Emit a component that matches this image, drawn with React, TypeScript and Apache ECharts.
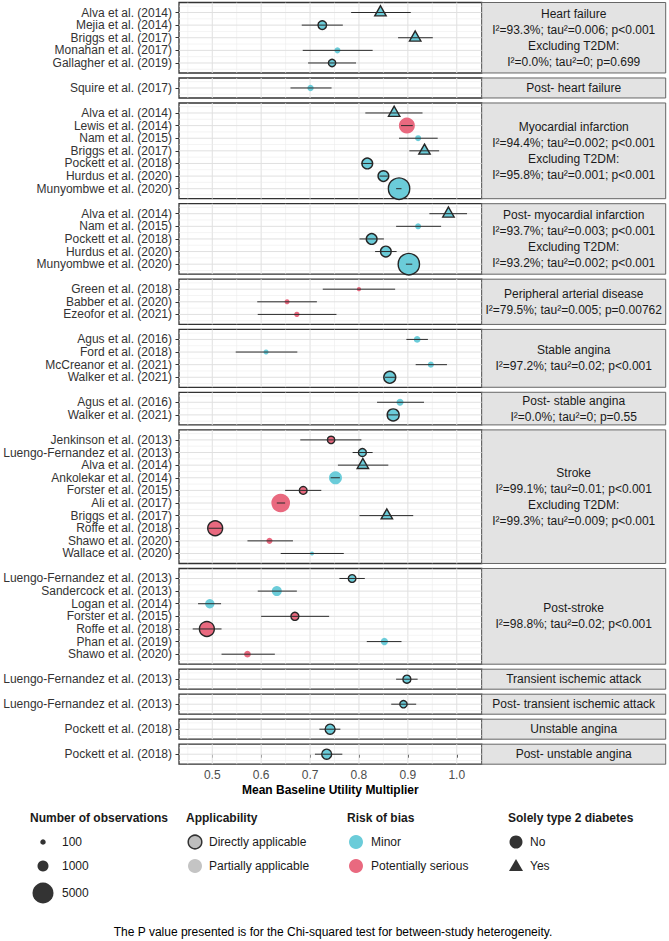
import React, { useEffect, useRef } from "react";
import * as echarts from "echarts";

const FONT = '"Liberation Sans", Arial, Helvetica, sans-serif';

const groupNames = [
  "Heart failure",
  "Post- heart failure",
  "Myocardial infarction",
  "Post- myocardial infarction",
  "Peripheral arterial disease",
  "Stable angina",
  "Post- stable angina",
  "Stroke",
  "Post-stroke",
  "Transient ischemic attack",
  "Post- transient ischemic attack",
  "Unstable angina",
  "Post- unstable angina",
];

const groupStats = [
  "I²=93.3%; tau²=0.006; p<0.001\nExcluding T2DM:\nI²=0.0%; tau²=0; p=0.699",
  "",
  "I²=94.4%; tau²=0.002; p<0.001\nExcluding T2DM:\nI²=95.8%; tau²=0.001; p<0.001",
  "I²=93.7%; tau²=0.003; p<0.001\nExcluding T2DM:\nI²=93.2%; tau²=0.002; p<0.001",
  "I²=79.5%; tau²=0.005; p=0.00762",
  "I²=97.2%; tau²=0.02; p<0.001",
  "I²=0.0%; tau²=0; p=0.55",
  "I²=99.1%; tau²=0.01; p<0.001\nExcluding T2DM:\nI²=99.3%; tau²=0.009; p<0.001",
  "I²=98.8%; tau²=0.02; p<0.001",
  "",
  "",
  "",
  "",
];

const studyGroup = [
  0, 0, 0, 0, 0,
  1,
  2, 2, 2, 2, 2, 2, 2,
  3, 3, 3, 3, 3,
  4, 4, 4,
  5, 5, 5, 5,
  6, 6,
  7, 7, 7, 7, 7, 7, 7, 7, 7, 7,
  8, 8, 8, 8, 8, 8, 8,
  9,
  10,
  11,
  12,
];

const studyLabels = [
  "Alva et al. (2014)", "Mejia et al. (2014)", "Briggs et al. (2017)", "Monahan et al. (2017)", "Gallagher et al. (2019)",
  "Squire et al. (2017)",
  "Alva et al. (2014)", "Lewis et al. (2014)", "Nam et al. (2015)", "Briggs et al. (2017)", "Pockett et al. (2018)", "Hurdus et al. (2020)", "Munyombwe et al. (2020)",
  "Alva et al. (2014)", "Nam et al. (2015)", "Pockett et al. (2018)", "Hurdus et al. (2020)", "Munyombwe et al. (2020)",
  "Green et al. (2018)", "Babber et al. (2020)", "Ezeofor et al. (2021)",
  "Agus et al. (2016)", "Ford et al. (2018)", "McCreanor et al. (2021)", "Walker et al. (2021)",
  "Agus et al. (2016)", "Walker et al. (2021)",
  "Jenkinson et al. (2013)", "Luengo-Fernandez et al. (2013)", "Alva et al. (2014)", "Ankolekar et al. (2014)", "Forster et al. (2015)", "Ali et al. (2017)", "Briggs et al. (2017)", "Roffe et al. (2018)", "Shawo et al. (2020)", "Wallace et al. (2020)",
  "Luengo-Fernandez et al. (2013)", "Sandercock et al. (2013)", "Logan et al. (2014)", "Forster et al. (2015)", "Roffe et al. (2018)", "Phan et al. (2019)", "Shawo et al. (2020)",
  "Luengo-Fernandez et al. (2013)",
  "Luengo-Fernandez et al. (2013)",
  "Pockett et al. (2018)",
  "Pockett et al. (2018)",
];

const meanUtility = [
  0.844, 0.725, 0.915, 0.756, 0.745,
  0.701,
  0.872, 0.898, 0.921, 0.934, 0.817, 0.850, 0.882,
  0.983, 0.921, 0.826, 0.855, 0.902,
  0.800, 0.653, 0.673,
  0.919, 0.610, 0.947, 0.863,
  0.884, 0.870,
  0.743, 0.807, 0.808, 0.752, 0.686, 0.640, 0.857, 0.506, 0.617, 0.704,
  0.786, 0.632, 0.495, 0.669, 0.489, 0.852, 0.572,
  0.898,
  0.891,
  0.741,
  0.734,
];

const lowerCI = [
  0.784, 0.683, 0.880, 0.685, 0.696,
  0.660,
  0.813, 0.886, 0.882, 0.903, 0.805, 0.842, 0.876,
  0.944, 0.876, 0.801, 0.833, 0.896,
  0.726, 0.592, 0.593,
  0.897, 0.548, 0.916, 0.853,
  0.837, 0.859,
  0.680, 0.787, 0.757, 0.742, 0.649, 0.632, 0.801, 0.492, 0.572, 0.640,
  0.760, 0.593, 0.471, 0.600, 0.460, 0.816, 0.519,
  0.876,
  0.866,
  0.719,
  0.710,
];

const upperCI = [
  0.906, 0.767, 0.951, 0.828, 0.794,
  0.744,
  0.930, 0.910, 0.961, 0.964, 0.829, 0.859, 0.887,
  1.021, 0.968, 0.851, 0.877, 0.909,
  0.874, 0.714, 0.754,
  0.941, 0.674, 0.980, 0.874,
  0.933, 0.881,
  0.805, 0.828, 0.860, 0.761, 0.723, 0.649, 0.911, 0.520, 0.665, 0.769,
  0.812, 0.673, 0.518, 0.739, 0.519, 0.887, 0.628,
  0.920,
  0.917,
  0.762,
  0.766,
];

const observations = [
  500, 500, 500, 150, 300,
  180,
  500, 2600, 150, 500, 930, 930, 5200,
  500, 150, 930, 930, 5200,
  30, 70, 90,
  220, 70, 150, 1260,
  260, 1260,
  300, 400, 500, 1550, 370, 3800, 500, 2200, 150, 20,
  350, 770, 630, 400, 2200, 300, 220,
  400,
  300,
  770,
  770,
];

const DA = "Directly applicable";
const PA = "Partially applicable";
const applicability = [
  DA, DA, DA, PA, DA,
  PA,
  DA, PA, PA, DA, DA, DA, DA,
  DA, PA, DA, DA, DA,
  PA, PA, PA,
  PA, PA, PA, DA,
  PA, DA,
  DA, DA, DA, PA, DA, PA, DA, DA, PA, PA,
  DA, PA, PA, DA, DA, PA, PA,
  DA,
  DA,
  DA,
  DA,
];

const MI = "Minor";
const PS = "Potentially serious";
const riskOfBias = [
  MI, MI, MI, MI, MI,
  MI,
  MI, PS, MI, MI, MI, MI, MI,
  MI, MI, MI, MI, MI,
  PS, PS, PS,
  MI, MI, MI, MI,
  MI, MI,
  PS, MI, MI, MI, PS, PS, MI, PS, PS, MI,
  MI, MI, MI, PS, PS, MI, PS,
  MI,
  MI,
  MI,
  MI,
];

const solelyT2D = [
  "Yes", "No", "Yes", "No", "No",
  "No",
  "Yes", "No", "No", "Yes", "No", "No", "No",
  "Yes", "No", "No", "No", "No",
  "No", "No", "No",
  "No", "No", "No", "No",
  "No", "No",
  "No", "No", "Yes", "No", "No", "No", "Yes", "No", "No", "No",
  "No", "No", "No", "No", "No", "No", "No",
  "No",
  "No",
  "No",
  "No",
];

const xTicks = [0.5, 0.6, 0.7, 0.8, 0.9, 1.0];
const xMinorGrid = [0.45, 0.55, 0.65, 0.75, 0.85, 0.95];
const sizeLegendValues = [100, 1000, 5000];
const sizeLegendLabels = ["100", "1000", "5000"];

const riskColors: Record<string, string> = { Minor: "#6BCCD9", "Potentially serious": "#E9697F" };

// layout
const TOP = 2.5;
const STEP = 12.62;
const PAD = 10;
const GAP = 5;
const LEFT = 179;
const PANEL_W = 302.7;
const STRIP_W = 184;
const XMIN = 0.432;
const XMAX = 1.051;

function diameter(n: number) {
  return 2.9 + 0.256 * Math.sqrt(n);
}

function buildOption() {
  const grid: any[] = [];
  const xAxis: any[] = [];
  const yAxis: any[] = [];
  const series: any[] = [];
  const graphic: any[] = [];

  let y = TOP;
  groupNames.forEach((gName, gi) => {
    const idx: number[] = [];
    studyGroup.forEach((g, i) => {
      if (g === gi) idx.push(i);
    });
    const n = idx.length;
    const h = (n - 1) * STEP + 2 * PAD;
    const last = gi === groupNames.length - 1;
    const labels = idx.map((i) => studyLabels[i]);
    const rows = idx.map((_, k) => k);
    const yMin = -PAD / STEP;
    const yMax = n - 1 + PAD / STEP;

    grid.push({
      left: LEFT,
      top: y,
      width: PANEL_W,
      height: h,
      show: true,
      backgroundColor: "#FFFFFF",
      borderColor: "#333333",
      borderWidth: 1.3,
    });

    xAxis.push({
      type: "value",
      gridIndex: gi,
      min: XMIN,
      max: XMAX,
      minInterval: 0.1,
      maxInterval: 0.1,
      splitLine: { show: false },
      axisLine: { show: false },
      axisTick: {
        show: last,
        customValues: xTicks,
        length: 3.5,
        lineStyle: { color: "#333333", width: 1 },
      },
      axisLabel: {
        show: last,
        customValues: xTicks,
        margin: 5,
        color: "#4D4D4D",
        fontSize: 12,
        fontFamily: FONT,
        formatter: (v: number) => {
          const ok = xTicks.some((t) => Math.abs(t - v) < 1e-6);
          return ok ? v.toFixed(1) : "";
        },
      },
      name: last ? "Mean Baseline Utility Multiplier" : "",
      nameLocation: "middle",
      nameGap: 20,
      nameTextStyle: {
        fontWeight: "bold",
        fontSize: 12,
        color: "#000000",
        fontFamily: FONT,
      },
    });

    yAxis.push({
      type: "value",
      gridIndex: gi,
      min: yMin,
      max: yMax,
      inverse: true,
      minInterval: 1,
      maxInterval: 1,
      splitLine: { show: false },
      axisLine: { show: false },
      axisTick: {
        show: true,
        customValues: rows,
        length: 3.5,
        lineStyle: { color: "#333333", width: 1 },
      },
      axisLabel: {
        customValues: rows,
        margin: 7,
        color: "#333333",
        fontSize: 12,
        fontFamily: FONT,
        formatter: (v: number) => {
          const r = Math.round(v);
          return Math.abs(v - r) < 1e-6 && r >= 0 && r < n ? labels[r] : "";
        },
      },
    });

    // grid lines (through the axes' scales)
    const gridData: number[][] = [];
    xTicks.forEach((v) => gridData.push([0, v]));
    xMinorGrid.forEach((v) => gridData.push([1, v]));
    for (let r = 0; r < n; r++) gridData.push([2, r]);
    for (let r = -1; r < n; r++) gridData.push([3, r + 0.5]);
    series.push({
      type: "custom",
      xAxisIndex: gi,
      yAxisIndex: gi,
      z: 1,
      silent: true,
      data: gridData,
      renderItem: (params: any, api: any) => {
        const kind = api.value(0);
        const v = api.value(1);
        let p1: number[];
        let p2: number[];
        if (kind < 2) {
          p1 = api.coord([v, yMin]);
          p2 = api.coord([v, yMax]);
        } else {
          p1 = api.coord([XMIN, v]);
          p2 = api.coord([XMAX, v]);
        }
        const major = kind === 0 || kind === 2;
        return {
          type: "line",
          shape: { x1: p1[0], y1: p1[1], x2: p2[0], y2: p2[1] },
          style: {
            stroke: major ? "#E0E0E0" : "#EDEDED",
            lineWidth: major ? 1 : 0.6,
          },
        };
      },
    });

    // points
    series.push({
      type: "scatter",
      xAxisIndex: gi,
      yAxisIndex: gi,
      z: 2,
      silent: true,
      data: idx.map((i, k) => {
        const d = diameter(observations[i]);
        const tri = solelyT2D[i] === "Yes";
        const direct = applicability[i] === DA;
        const w = tri ? d * 1.32 : d;
        const hh = tri ? w * 0.88 : d;
        return {
          value: [meanUtility[i], k],
          symbol: tri ? "triangle" : "circle",
          symbolSize: [w, hh],
          symbolOffset: tri ? [0, -hh / 6] : [0, 0],
          itemStyle: {
            color: riskColors[riskOfBias[i]],
            borderColor: "#262626",
            borderWidth: direct ? 1.4 : 0,
            opacity: 1,
          },
        };
      }),
    });

    // confidence intervals
    series.push({
      type: "custom",
      xAxisIndex: gi,
      yAxisIndex: gi,
      z: 3,
      silent: true,
      encode: { x: [0, 1], y: 2 },
      data: idx.map((i, k) => [lowerCI[i], upperCI[i], k]),
      renderItem: (params: any, api: any) => {
        const p1 = api.coord([api.value(0), api.value(2)]);
        const p2 = api.coord([api.value(1), api.value(2)]);
        return {
          type: "line",
          shape: { x1: p1[0], y1: p1[1], x2: p2[0], y2: p2[1] },
          style: { stroke: "#2B2B2B", lineWidth: 1 },
        };
      },
    });

    // strip
    const stats = groupStats[gi];
    const text = stats ? gName + "\n" + stats : gName;
    graphic.push({
      type: "rect",
      silent: true,
      shape: { x: LEFT + PANEL_W, y: y, width: STRIP_W, height: h },
      style: { fill: "#E3E3E3", stroke: "#666666", lineWidth: 1 },
    });
    graphic.push({
      type: "text",
      silent: true,
      x: LEFT + PANEL_W + STRIP_W / 2,
      y: y + h / 2,
      style: {
        text,
        align: "center",
        verticalAlign: "middle",
        textAlign: "center",
        textVerticalAlign: "middle",
        fontSize: 12,
        lineHeight: 15.9,
        fontFamily: FONT,
        fill: "#1A1A1A",
      },
    });

    y += h + GAP;
  });

  // ---------- legends ----------
  const titleY = 818;
  const rowY = [842, 866, 893];
  const titleStyle = (t: string, x: number) => ({
    type: "text",
    silent: true,
    x,
    y: titleY,
    style: {
      text: t,
      fontSize: 12,
      fontWeight: "bold",
      fontFamily: FONT,
      fill: "#1A1A1A",
      align: "left",
      verticalAlign: "middle",
      textAlign: "left",
      textVerticalAlign: "middle",
    },
  });
  const labelStyle = (t: string, x: number, yy: number) => ({
    type: "text",
    silent: true,
    x,
    y: yy,
    style: {
      text: t,
      fontSize: 12,
      fontFamily: FONT,
      fill: "#1A1A1A",
      align: "left",
      verticalAlign: "middle",
      textAlign: "left",
      textVerticalAlign: "middle",
    },
  });

  graphic.push(titleStyle("Number of observations", 30));
  sizeLegendValues.forEach((v, k) => {
    graphic.push({
      type: "circle",
      silent: true,
      shape: { cx: 43, cy: rowY[k], r: diameter(v) / 2 },
      style: { fill: "#333333" },
    });
    graphic.push(labelStyle(sizeLegendLabels[k], 62, rowY[k]));
  });

  graphic.push(titleStyle("Applicability", 186));
  graphic.push({
    type: "circle",
    silent: true,
    shape: { cx: 195, cy: rowY[0], r: 6.8 },
    style: { fill: "#BEBEBE", stroke: "#333333", lineWidth: 1.5 },
  });
  graphic.push(labelStyle(DA, 209, rowY[0]));
  graphic.push({
    type: "circle",
    silent: true,
    shape: { cx: 195, cy: rowY[1], r: 7 },
    style: { fill: "#C4C4C4" },
  });
  graphic.push(labelStyle(PA, 209, rowY[1]));

  graphic.push(titleStyle("Risk of bias", 347));
  graphic.push({
    type: "circle",
    silent: true,
    shape: { cx: 356, cy: rowY[0], r: 7 },
    style: { fill: riskColors[MI] },
  });
  graphic.push(labelStyle(MI, 371, rowY[0]));
  graphic.push({
    type: "circle",
    silent: true,
    shape: { cx: 356, cy: rowY[1], r: 7 },
    style: { fill: riskColors[PS] },
  });
  graphic.push(labelStyle(PS, 371, rowY[1]));

  graphic.push(titleStyle("Solely type 2 diabetes", 508));
  graphic.push({
    type: "circle",
    silent: true,
    shape: { cx: 516, cy: rowY[0], r: 6.5 },
    style: { fill: "#333333" },
  });
  graphic.push(labelStyle("No", 530, rowY[0]));
  graphic.push({
    type: "polygon",
    silent: true,
    shape: {
      points: [
        [516, rowY[1] - 7],
        [523, rowY[1] + 5],
        [509, rowY[1] + 5],
      ],
    },
    style: { fill: "#333333" },
  });
  graphic.push(labelStyle("Yes", 530, rowY[1]));

  graphic.push({
    type: "text",
    silent: true,
    x: 333,
    y: 932,
    style: {
      text: "The P value presented is for the Chi-squared test for between-study heterogeneity.",
      fontSize: 12,
      fontFamily: FONT,
      fill: "#000000",
      align: "center",
      verticalAlign: "middle",
      textAlign: "center",
      textVerticalAlign: "middle",
    },
  });

  return {
    animation: false,
    backgroundColor: "#FFFFFF",
    textStyle: { fontFamily: FONT },
    grid,
    xAxis,
    yAxis,
    series,
    graphic: { elements: graphic },
  };
}

export default function App() {
  const ref = useRef<HTMLDivElement>(null);
  useEffect(() => {
    if (!ref.current) return;
    const chart = echarts.init(ref.current, undefined, { renderer: "svg" });
    chart.setOption(buildOption() as any);
    return () => {
      chart.dispose();
    };
  }, []);
  return (
    <div
      ref={ref}
      style={{ position: "absolute", left: 0, top: 0, width: 669, height: 941 }}
    />
  );
}
